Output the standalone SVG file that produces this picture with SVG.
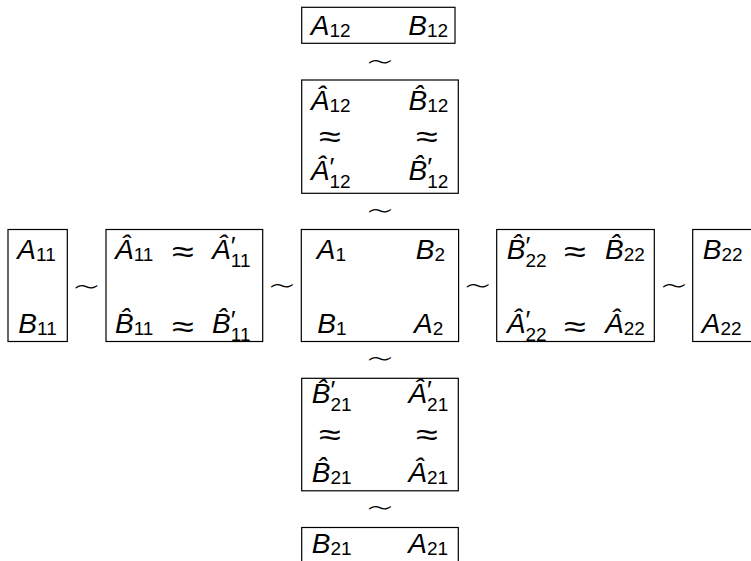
<svg xmlns="http://www.w3.org/2000/svg" width="751" height="561" viewBox="0 0 751 561">
<style>
rect{fill:none;stroke:#000;stroke-width:1.2}
text{font-family:"Liberation Sans","DejaVu Sans",sans-serif;fill:#000}
.m{font-size:28px;font-style:italic}
.s{font-size:19px;font-style:normal}
.p{font-size:26px;font-style:normal}
.r{font-family:"DejaVu Sans",sans-serif;font-weight:200;font-size:31px;text-anchor:middle}
.t{font-family:"DejaVu Sans",sans-serif;font-weight:200;font-size:32px;text-anchor:middle}
</style>
<rect width="751" height="561" style="stroke:none;fill:#fff"/>
<g id="n-a12b12">
<rect x="301.7" y="7.3" width="153.3" height="36"/>
<text class="m" x="310.7" y="35">A<tspan class="s" dy="2">12</tspan></text>
<text class="m" x="408.3" y="35">B<tspan class="s" dy="2">12</tspan></text>
</g>
<g id="n-hat12">
<rect x="301.7" y="80" width="156.6" height="113.3"/>
<text class="m" x="310.7" y="110">Â<tspan class="s" dy="2">12</tspan></text>
<text class="m" x="408.5" y="110">B̂<tspan class="s" dy="2">12</tspan></text>
<text class="r" transform="translate(330 147) scale(1.28 1)">≈</text>
<text class="r" transform="translate(427 147) scale(1.28 1)">≈</text>
<text class="m" x="310.7" y="180">Â<tspan class="p" dy="-4">′</tspan><tspan class="s" x="329.5" dy="12">12</tspan></text>
<text class="m" x="408.5" y="180">B̂<tspan class="p" dy="-4">′</tspan><tspan class="s" x="427.3" dy="12">12</tspan></text>
</g>
<g id="n-center">
<rect x="301.3" y="229.5" width="157.3" height="112"/>
<text class="m" x="316.7" y="259">A<tspan class="s" dy="2">1</tspan></text>
<text class="m" x="415.7" y="259">B<tspan class="s" dy="2">2</tspan></text>
<text class="m" x="317.3" y="332.7">B<tspan class="s" dy="2">1</tspan></text>
<text class="m" x="414" y="332.7">A<tspan class="s" dy="2">2</tspan></text>
</g>
<g id="n-a11b11">
<rect x="8" y="229.5" width="59.3" height="112"/>
<text class="m" x="17.3" y="259">A<tspan class="s" dy="2">11</tspan></text>
<text class="m" x="18.3" y="333">B<tspan class="s" dy="2">11</tspan></text>
</g>
<g id="n-hat11">
<rect x="106" y="229.5" width="156.7" height="112"/>
<text class="m" x="115" y="259">Â<tspan class="s" dy="2">11</tspan></text>
<text class="r" transform="translate(183 262) scale(1.28 1)">≈</text>
<text class="m" x="212" y="259">Â<tspan class="p" dy="-4">′</tspan><tspan class="s" x="230.8" dy="12">11</tspan></text>
<text class="m" x="115" y="333">B̂<tspan class="s" dy="2">11</tspan></text>
<text class="r" transform="translate(183 336.5) scale(1.28 1)">≈</text>
<text class="m" x="212" y="333">B̂<tspan class="p" dy="-4">′</tspan><tspan class="s" x="230.8" dy="12">11</tspan></text>
</g>
<g id="n-hat22">
<rect x="496.7" y="229.5" width="157.6" height="112"/>
<text class="m" x="506.7" y="259">B̂<tspan class="p" dy="-4">′</tspan><tspan class="s" x="525.5" dy="12">22</tspan></text>
<text class="r" transform="translate(575 262) scale(1.28 1)">≈</text>
<text class="m" x="605" y="259">B̂<tspan class="s" dy="2">22</tspan></text>
<text class="m" x="506.7" y="333">Â<tspan class="p" dy="-4">′</tspan><tspan class="s" x="525.5" dy="12">22</tspan></text>
<text class="r" transform="translate(575 336.5) scale(1.28 1)">≈</text>
<text class="m" x="605" y="333">Â<tspan class="s" dy="2">22</tspan></text>
</g>
<g id="n-b22a22">
<rect x="692.7" y="229.5" width="80" height="112"/>
<text class="m" x="702.7" y="259">B<tspan class="s" dy="2">22</tspan></text>
<text class="m" x="701.7" y="333">A<tspan class="s" dy="2">22</tspan></text>
</g>
<g id="n-hat21">
<rect x="301.7" y="378.3" width="156.6" height="112.5"/>
<text class="m" x="311.7" y="403.3">B̂<tspan class="p" dy="-4">′</tspan><tspan class="s" x="330.5" dy="12">21</tspan></text>
<text class="m" x="408.3" y="403.3">Â<tspan class="p" dy="-4">′</tspan><tspan class="s" x="427.1" dy="12">21</tspan></text>
<text class="r" transform="translate(330 444.5) scale(1.28 1)">≈</text>
<text class="r" transform="translate(427 444.5) scale(1.28 1)">≈</text>
<text class="m" x="311.7" y="481.7">B̂<tspan class="s" dy="2">21</tspan></text>
<text class="m" x="408.3" y="481.7">Â<tspan class="s" dy="2">21</tspan></text>
</g>
<g id="n-b21a21">
<rect x="301.7" y="527.5" width="156.6" height="60"/>
<text class="m" x="311.7" y="553.3">B<tspan class="s" dy="2">21</tspan></text>
<text class="m" x="408.3" y="553.3">A<tspan class="s" dy="2">21</tspan></text>
</g>
<g id="connectors">
<text class="t" transform="translate(380 72.5) scale(1.42 1)">∼</text>
<text class="t" transform="translate(380 221.5) scale(1.42 1)">∼</text>
<text class="t" transform="translate(380 370) scale(1.42 1)">∼</text>
<text class="t" transform="translate(380 519) scale(1.42 1)">∼</text>
<text class="t" transform="translate(86.5 297.5) scale(1.42 1)">∼</text>
<text class="t" transform="translate(282 297) scale(1.42 1)">∼</text>
<text class="t" transform="translate(477.7 297) scale(1.42 1)">∼</text>
<text class="t" transform="translate(674 297) scale(1.42 1)">∼</text>
</g>
</svg>
